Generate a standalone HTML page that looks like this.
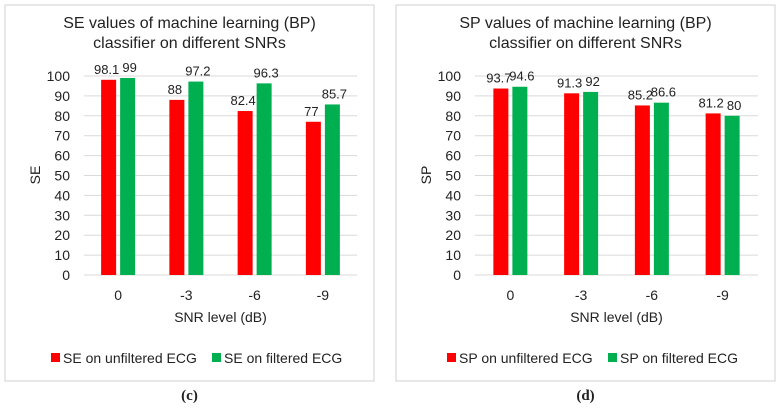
<!DOCTYPE html>
<html><head><meta charset="utf-8"><style>
body{margin:0;background:#fff;width:780px;height:405px;overflow:hidden;font-family:"Liberation Sans",sans-serif}
svg text{font-family:"Liberation Sans",sans-serif;fill:#222}
</style></head><body>
<svg id="s" width="780" height="405"></svg>
<script>
const categories=["0","-3","-6","-9"];
const seUnfiltered=[98.1,88,82.4,77];
const seFiltered=[99,97.2,96.3,85.7];
const spUnfiltered=[93.7,91.3,85.2,81.2];
const spFiltered=[94.6,92,86.6,80];
const yTicks=[0,10,20,30,40,50,60,70,80,90,100];
const NS="http://www.w3.org/2000/svg";
const svg=document.getElementById('s');
function mk(tag,attrs,parent,txt){const e=document.createElementNS(NS,tag);for(const k in attrs)e.setAttribute(k,attrs[k]);if(txt!==undefined)e.textContent=txt;(parent||svg).appendChild(e);return e;}
function chart(o){
  const g=mk('g',{});
  
  
  const b=mk('rect',{x:o.bx,y:5,width:o.bw,height:376,fill:'none',stroke:'#d0d0d0','stroke-width':1},g);
  
  
  const y=v=>275-v*1.99;
  const band=(o.x1-o.x0)/categories.length;
  const xc=i=>o.x0+band*(i+0.5);
  yTicks.forEach(t=>{
    const l=mk('line',{x1:o.x0,x2:o.x1,y1:y(t),y2:y(t),stroke:'#d9d9d9','stroke-width':1},g);
    
    
    const tx=mk('text',{x:o.x0-14,y:y(t)+5,'text-anchor':'end','font-size':14},g,t);
    
    
  });
  categories.forEach((c,i)=>{
    [[o.a,'#ff0000',-1],[o.b,'#00b050',1]].forEach(([arr,col,s])=>{
      const x=s<0?xc(i)-17:xc(i)+2;
      const r=mk('rect',{x:x,y:y(arr[i]),width:15,height:275-y(arr[i]),fill:col},g);
      
      
      const lt=mk('text',{x:x+7.5+s*2,y:y(arr[i])-6,'text-anchor':'middle','font-size':13},g,arr[i]);
      
      
    });
    const ct=mk('text',{x:xc(i),y:300,'text-anchor':'middle','font-size':14},g,c);
    
    
  });
  const mid=(o.bx+o.bx+o.bw)/2;
  const t1=mk('text',{x:mid,y:28,'text-anchor':'middle','font-size':16},g,o.title1);
  
  
  const t2=mk('text',{x:mid,y:48,'text-anchor':'middle','font-size':16},g,o.title2);
  
  
  const xt=mk('text',{x:(o.x0+o.x1)/2,y:322,'text-anchor':'middle','font-size':14},g,'SNR level (dB)');
  
  
  const yt=mk('text',{x:0,y:0,'text-anchor':'middle','font-size':14,transform:`translate(${o.bx+35},175) rotate(-90)`},g,o.yl);
  
  
  [[o.l1,'#ff0000',o.lx1],[o.l2,'#00b050',o.lx2]].forEach(([txt,col,lx])=>{
    const sw=mk('rect',{x:lx,y:353,width:9,height:9,fill:col},g);
    
    
    const lt=mk('text',{x:lx+12,y:363,'font-size':14},g,txt);
    
    
  });
  const cap=mk('text',{x:mid,y:400,'text-anchor':'middle','font-size':15,'font-weight':'bold',style:'font-family:"Liberation Serif",serif'},g,o.cap);
  
  
}
chart({name:'se-chart',bx:5,bw:369,x0:84,x1:357,a:seUnfiltered,b:seFiltered,title1:'SE values of machine learning (BP)',title2:'classifier on different SNRs',yl:'SE',l1:'SE on unfiltered ECG',l2:'SE on filtered ECG',lx1:51,lx2:212,cap:'(c)'});
chart({name:'sp-chart',bx:396,bw:379,x0:475,x1:758,a:spUnfiltered,b:spFiltered,title1:'SP values of machine learning (BP)',title2:'classifier on different SNRs',yl:'SP',l1:'SP on unfiltered ECG',l2:'SP on filtered ECG',lx1:447,lx2:608,cap:'(d)'});
</script>
</body></html>
